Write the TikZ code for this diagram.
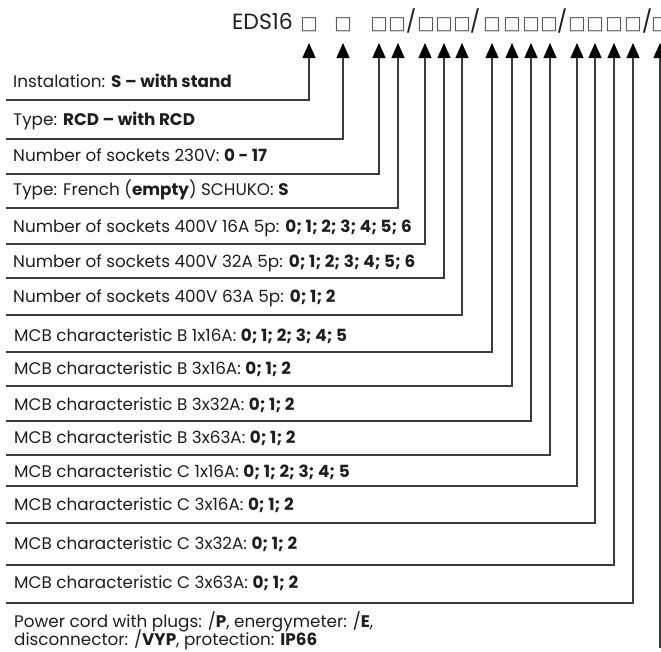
\documentclass[tikz,border=0pt]{standalone}
\usepackage{fontspec}
\setmainfont{Poppins}
\newfontfamily\boxfont{DejaVu Sans}
\usetikzlibrary{arrows.meta}
\definecolor{textgray}{HTML}{1E1E1E}
\definecolor{linegray}{HTML}{3C3C3C}
\definecolor{boxgray}{HTML}{555555}

\tikzset{
  rowtext/.style={anchor=base west, inner sep=0pt, text=textgray,
    font=\fontsize{16.8}{20}\selectfont},
  codetext/.style={anchor=base, inner sep=0pt, text=textgray,
    font=\fontsize{22}{26}\selectfont},
  codebox/.style={anchor=base, inner sep=0pt, text=boxgray,
    font=\boxfont\fontsize{18.5}{22}\selectfont},
  pointer/.style={draw=linegray, line width=1.2pt,
    -{Triangle[width=13pt,length=15pt,color=black]}}
}

\begin{document}
\begin{tikzpicture}[x=1pt,y=-1pt]
\useasboundingbox (0,0) rectangle (661,651);

% Order code
\node[codetext, anchor=base west] (code) at (232,29) {EDS16};
\node[codebox] (b1) at (309,29) {□};
\node[codebox] (b2) at (343,29) {□};
\node[codebox] (b3) at (379,29) {□};
\node[codebox] (b4) at (397,29) {□};
\node[codetext] (s1) at (411,29) {/};
\node[codebox] (b5) at (426,29) {□};
\node[codebox] (b6) at (444,29) {□};
\node[codebox] (b7) at (462,29) {□};
\node[codetext] (s2) at (475,29) {/};
\node[codebox] (b8) at (492,29) {□};
\node[codebox] (b9) at (512,29) {□};
\node[codebox] (b10) at (531,29) {□};
\node[codebox] (b11) at (549,29) {□};
\node[codetext] (s3) at (562,29) {/};
\node[codebox] (b12) at (577,29) {□};
\node[codebox] (b13) at (595,29) {□};
\node[codebox] (b14) at (614,29) {□};
\node[codebox] (b15) at (633,29) {□};
\node[codetext] (s4) at (647,29) {/};
\node[codebox] (b16) at (660,29) {□};

% Arrow tips
\coordinate (t1) at (309,43);
\coordinate (t2) at (343,43);
\coordinate (t3) at (379,43);
\coordinate (t4) at (398,43);
\coordinate (t5) at (425,43);
\coordinate (t6) at (444,43);
\coordinate (t7) at (462,43);
\coordinate (t8) at (492,43);
\coordinate (t9) at (512,43);
\coordinate (t10) at (531,43);
\coordinate (t11) at (550,43);
\coordinate (t12) at (577,43);
\coordinate (t13) at (595,43);
\coordinate (t14) at (614,43);
\coordinate (t15) at (633,43);
\coordinate (t16) at (660,43);

% Row lines start
\coordinate (r1) at (6,100);
\coordinate (r2) at (6,139);
\coordinate (r3) at (6,174);
\coordinate (r4) at (6,208);
\coordinate (r5) at (6,244);
\coordinate (r6) at (6,278);
\coordinate (r7) at (6,315);
\coordinate (r8) at (6,352);
\coordinate (r9) at (6,386);
\coordinate (r10) at (6,421);
\coordinate (r11) at (6,455);
\coordinate (r12) at (6,486);
\coordinate (r13) at (6,523);
\coordinate (r14) at (6,565);
\coordinate (r15) at (6,603);
\coordinate (r16) at (660,648);

% Descriptions
\node[rowtext] (inst) at (13,87) {Instalation: \textbf{S – with stand}};
\node[rowtext] (rcd) at (13,125) {Type: \textbf{RCD – with RCD}};
\node[rowtext] (s230) at (13,161) {Number of sockets 230V: \textbf{0 - 17}};
\node[rowtext] (stype) at (13,195) {Type: French (\textbf{empty}) SCHUKO: \textbf{S}};
\node[rowtext] (s16) at (13,232) {Number of sockets 400V 16A 5p: \textbf{0; 1; 2; 3; 4; 5; 6}};
\node[rowtext] (s32) at (13,267) {Number of sockets 400V 32A 5p: \textbf{0; 1; 2; 3; 4; 5; 6}};
\node[rowtext] (s63) at (13,302) {Number of sockets 400V 63A 5p: \textbf{0; 1; 2}};
\node[rowtext] (b1x16) at (14,341) {MCB characteristic B 1x16A: \textbf{0; 1; 2; 3; 4; 5}};
\node[rowtext] (b3x16) at (14,374) {MCB characteristic B 3x16A: \textbf{0; 1; 2}};
\node[rowtext] (b3x32) at (14,410) {MCB characteristic B 3x32A: \textbf{0; 1; 2}};
\node[rowtext] (b3x63) at (14,443) {MCB characteristic B 3x63A: \textbf{0; 1; 2}};
\node[rowtext] (c1x16) at (14,477) {MCB characteristic C 1x16A: \textbf{0; 1; 2; 3; 4; 5}};
\node[rowtext] (c3x16) at (14,510) {MCB characteristic C 3x16A: \textbf{0; 1; 2}};
\node[rowtext] (c3x32) at (14,549) {MCB characteristic C 3x32A: \textbf{0; 1; 2}};
\node[rowtext] (c3x63) at (14,588) {MCB characteristic C 3x63A: \textbf{0; 1; 2}};
\node[rowtext] (cord) at (14,627) {Power cord with plugs: /\textbf{P}, energymeter: /\textbf{E},};
\node[rowtext] (cordb) at (14,645) {disconnector: /\textbf{VYP}, protection: \textbf{IP66}};

% Pointers
\draw[pointer] (r1) -| (t1);
\draw[pointer] (r2) -| (t2);
\draw[pointer] (r3) -| (t3);
\draw[pointer] (r4) -| (t4);
\draw[pointer] (r5) -| (t5);
\draw[pointer] (r6) -| (t6);
\draw[pointer] (r7) -| (t7);
\draw[pointer] (r8) -| (t8);
\draw[pointer] (r9) -| (t9);
\draw[pointer] (r10) -| (t10);
\draw[pointer] (r11) -| (t11);
\draw[pointer] (r12) -| (t12);
\draw[pointer] (r13) -| (t13);
\draw[pointer] (r14) -| (t14);
\draw[pointer] (r15) -| (t15);
\draw[pointer] (r16) -- (t16);
\end{tikzpicture}
\end{document}
